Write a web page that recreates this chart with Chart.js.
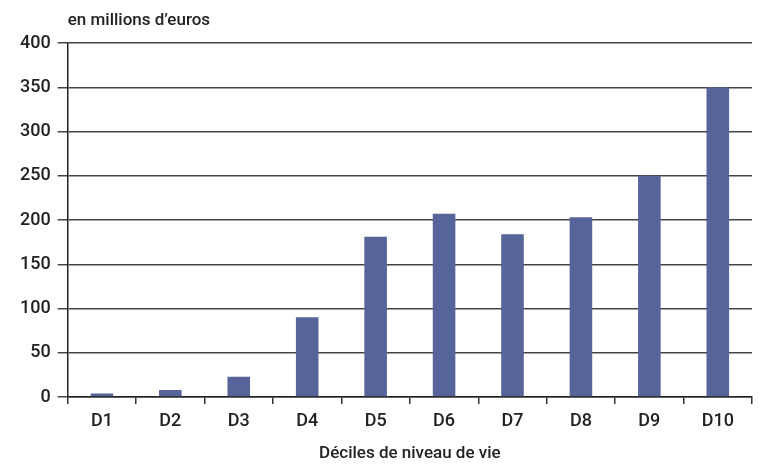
<!DOCTYPE html>
<html>
<head>
<meta charset="utf-8">
<script src="https://cdn.jsdelivr.net/npm/chart.js@4"></script>
<style>
  html, body { margin: 0; padding: 0; background: #fff; }
  #wrap { width: 764px; height: 465px; }
</style>
</head>
<body>
<div id="wrap"><canvas id="deciles"></canvas></div>
<script>
const deciles = ['D1', 'D2', 'D3', 'D4', 'D5', 'D6', 'D7', 'D8', 'D9', 'D10']
const montants = [4, 8, 23, 90, 181, 207, 184, 203, 250, 350]
const unitLabel = 'en millions d\u2019euros'
const xTitle = 'Déciles de niveau de vie'

const fontFamily = 'Roboto, "Noto Sans", sans-serif'
const textColor = '#222'

// unit label drawn above the plot, lined up with the y axis
const unitPlugin = {
    id: 'unitLabel',
    afterDraw(chart) {
        const ctx = chart.ctx
        ctx.save()
        ctx.font = '500 17px ' + fontFamily
        ctx.fillStyle = textColor
        ctx.textBaseline = 'middle'
        ctx.textAlign = 'left'
        ctx.fillText(unitLabel, chart.chartArea.left, 21)
        ctx.restore()
    }
}

const ctx = document.getElementById('deciles').getContext('2d')
new Chart(ctx, {
    type: 'bar',
    data: {
        labels: deciles,
        datasets: [{
            data: montants,
            backgroundColor: '#566499',
            barPercentage: 0.33,
            categoryPercentage: 1
        }]
    },
    options: {
        responsive: true,
        maintainAspectRatio: false,
        animation: false,
        layout: { padding: { top: 43, right: 12, left: 13, bottom: 0 } },
        plugins: {
            legend: { display: false },
            tooltip: { enabled: false }
        },
        scales: {
            x: {
                grid: {
                    offset: true,
                    drawOnChartArea: false,
                    color: '#333',
                    tickLength: 7,
                    lineWidth: 1.5
                },
                border: { color: '#222', width: 1.5 },
                ticks: { color: textColor, font: { family: fontFamily, size: 18, weight: '500' }, padding: 7 },
                title: {
                    display: true,
                    text: xTitle,
                    color: textColor,
                    font: { family: fontFamily, size: 17, weight: '500' },
                    padding: { top: 4, bottom: 1 }
                }
            },
            y: {
                min: 0,
                max: 400,
                ticks: { stepSize: 50, color: textColor, font: { family: fontFamily, size: 18, weight: '500' }, padding: 7 },
                grid: { color: '#444', lineWidth: 1.5, tickLength: 10 },
                border: { color: '#222', width: 1.5 }
            }
        }
    },
    plugins: [unitPlugin]
})
</script>
</body>
</html>
